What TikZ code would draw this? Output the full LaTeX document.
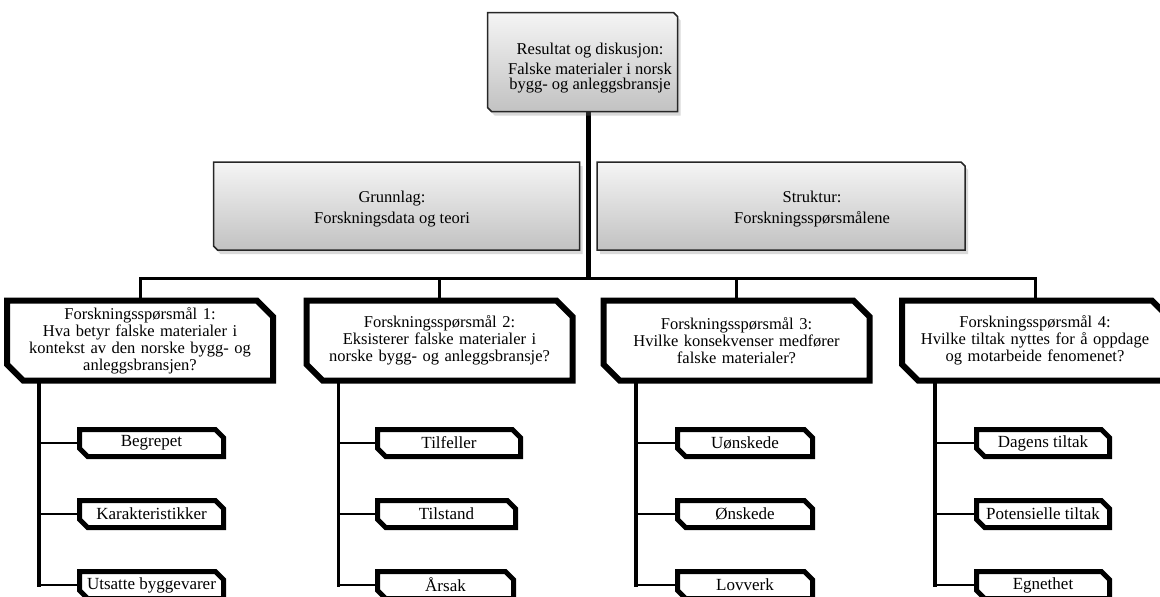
\documentclass[tikz,border=0pt]{standalone}
\usepackage{fontspec}
\setmainfont{Liberation Serif}
\usetikzlibrary{shapes.misc,shadows,calc}
\pgfdeclarelayer{background}
\pgfsetlayers{background,main}
\begin{document}
\begin{tikzpicture}[x=1pt,y=-1pt,
  base/.style={chamfered rectangle, inner sep=2pt, font=\fontsize{16.5}{17}\selectfont, text=black},
  greybox/.style={base, draw=black!85, line width=1.5pt, top color=white!96!black, bottom color=black!24,
     drop shadow={shadow xshift=3pt, shadow yshift=-4pt, opacity=0.3}},
  qbox/.style={base, draw, fill=white, line width=6pt, chamfered rectangle xsep=13pt,
     chamfered rectangle corners={north east, south west}, minimum height=80pt, text width=236pt, align=center},
  leaf/.style={base, draw, fill=white, line width=5pt, chamfered rectangle xsep=5pt,
     chamfered rectangle corners={north east, south west}, minimum height=27pt, anchor=west,
     font=\fontsize{17}{17}\selectfont},
  txt/.style={font=\fontsize{16.5}{17}\selectfont, align=center, text=black, inner sep=0pt},
  trunk/.style={line width=5pt},
  bus/.style={line width=3pt},
  spine/.style={line width=3.5pt},
  twig/.style={line width=2.5pt},
]
\useasboundingbox (0,0) rectangle (1160,597);

% top level
\node[greybox, minimum width=190pt, minimum height=99pt, chamfered rectangle corners={north east, south west},
      chamfered rectangle xsep=12pt] (top) at (582.5,62) {};
\node[txt, font=\fontsize{16.5}{15}\selectfont] (toptxt) at (590,68) {Resultat og diskusjon:\\[3.5pt] Falske materialer i norsk\\ bygg- og anleggsbransje};

\node[greybox, minimum width=366pt, minimum height=88pt, chamfered rectangle corners=south west,
      chamfered rectangle xsep=14pt] (grunn) at (396.5,206) {};
\node[txt] (grunntxt) at (392,209) {Grunnlag:\\[4.3pt] Forskningsdata og teori};

\node[greybox, minimum width=368pt, minimum height=88pt, chamfered rectangle corners=north east,
      chamfered rectangle xsep=14pt] (strukt) at (781,206) {};
\node[txt] (strukttxt) at (812,209) {Struktur:\\[4.3pt] Forskningsspørsmålene};

% questions
\node[qbox, minimum width=251pt] (q1) at (140,340.5) {Forskningsspørsmål 1:\\ Hva betyr falske materialer i\\ kontekst av den norske bygg- og\\ anleggsbransjen?};
\node[qbox, minimum width=250pt] (q2) at (439.5,340.5) {Forskningsspørsmål 2:\\ Eksisterer falske materialer i\\ norske bygg- og anleggsbransje?};
\node[qbox, minimum width=252pt] (q3) at (736.5,340.5) {Forskningsspørsmål 3:\\ Hvilke konsekvenser medfører\\ falske materialer?};
\node[qbox, minimum width=246pt] (q4) at (1035,340.5) {Forskningsspørsmål 4:\\ Hvilke tiltak nyttes for å oppdage\\ og motarbeide fenomenet?\\[6pt]};

% leaves
\node[leaf, minimum width=144pt] (l11) at (77,443) {Begrepet};
\node[leaf, minimum width=144pt] (l12) at (77,514) {Karakteristikker};
\node[leaf, minimum width=144pt] (l13) at (77,585) {Utsatte byggevarer};

\node[leaf, minimum width=143pt] (l21) at (375,443) {Tilfeller};
\node[leaf, minimum width=138pt] (l22) at (375,514) {Tilstand};
\node[leaf, minimum width=136pt] (l23) at (375,585) {Årsak};

\node[leaf, minimum width=135pt] (l31) at (675,443) {Uønskede};
\node[leaf, minimum width=135pt] (l32) at (675,514) {Ønskede};
\node[leaf, minimum width=135pt] (l33) at (675,585) {Lovverk};

\node[leaf, minimum width=133pt] (l41) at (974,443) {Dagens tiltak};
\node[leaf, minimum width=133pt] (l42) at (974,514) {Potensielle tiltak};
\node[leaf, minimum width=133pt] (l43) at (974,585) {Egnethet};

\coordinate (hub) at (588.5,278);
\coordinate (s1) at ([xshift=-101pt]q1.south);
\coordinate (s2) at ([xshift=-101pt]q2.south);
\coordinate (s3) at ([xshift=-100.5pt]q3.south);
\coordinate (s4) at ([xshift=-100pt]q4.south);

\begin{pgfonlayer}{background}
  \draw[trunk] (top.south -| hub) -- (hub);
  \draw[bus, line cap=rect] (q1.north) -- (q1.north |- hub) -- (q4.north |- hub) -- (q4.north);
  \draw[bus] (q2.north |- hub) -- (q2.north);
  \draw[bus] (q3.north |- hub) -- (q3.north);
  \foreach \i in {1,2,3,4}{
    \draw[spine, line cap=rect] (s\i) -- (s\i |- l\i3.west);
    \foreach \j in {1,2,3}{
      \draw[twig] (s\i |- l\i\j.west) -- (l\i\j.west);
    }
  }
\end{pgfonlayer}
\end{tikzpicture}
\end{document}
